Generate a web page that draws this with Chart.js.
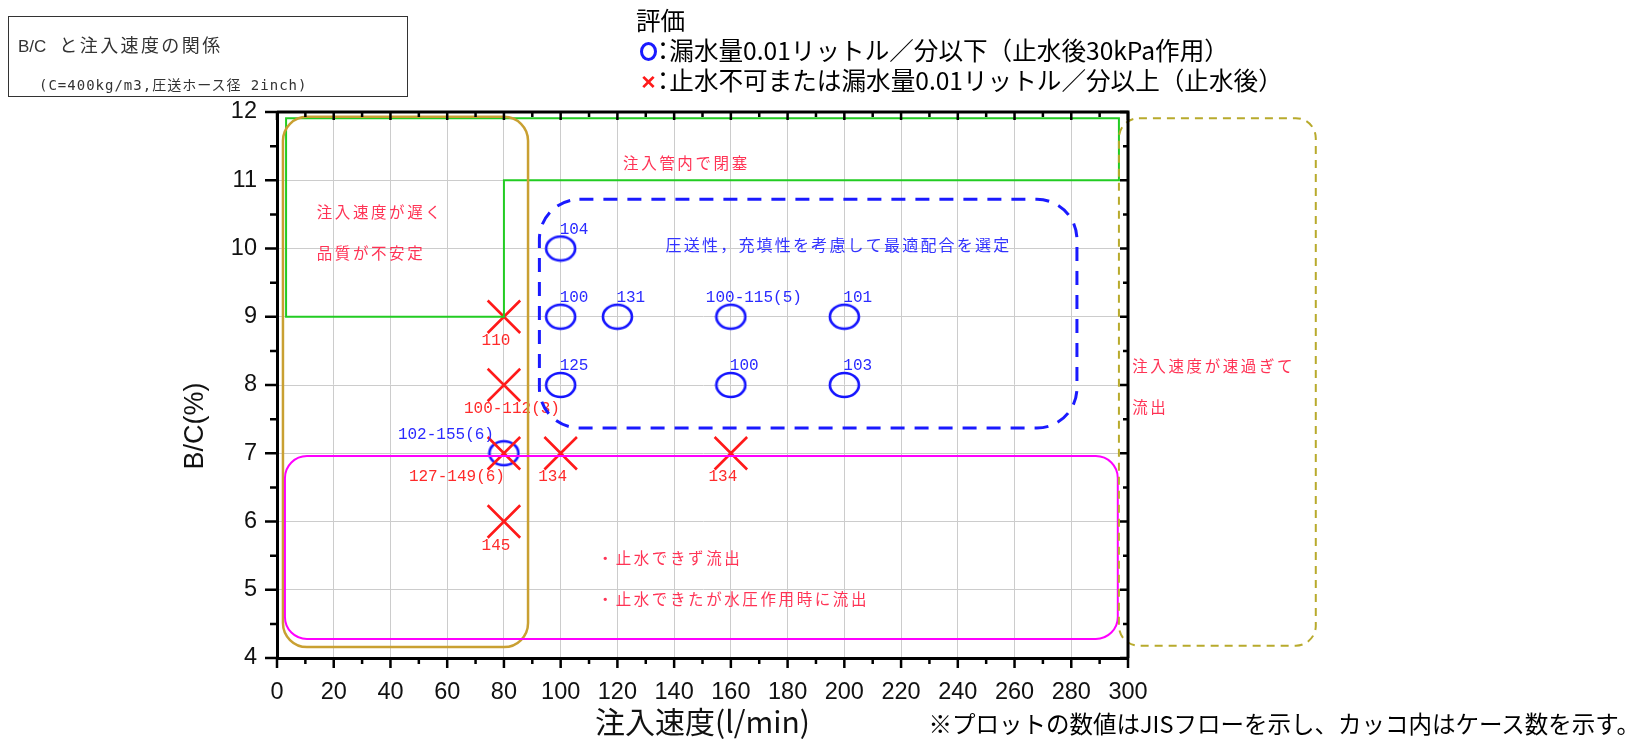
<!DOCTYPE html>
<html lang="ja">
<head>
<meta charset="utf-8">
<title>B/C と注入速度の関係</title>
<script src="https://cdn.jsdelivr.net/npm/chart.js@4.4.1/dist/chart.umd.min.js"></script>
<style>
    html, body { margin: 0; padding: 0; background: #fff; }
    #wrap { position: relative; width: 1636px; height: 740px; overflow: hidden; }
    #chart { position: absolute; left: 0; top: 0; }
    #caption {
        position: absolute; left: 8px; top: 16px; width: 400px; height: 81px;
        box-sizing: border-box; border: 1px solid #333; color: #333;
        font-family: "Noto Sans CJK JP", sans-serif;
    }
    #caption .l1 { position: absolute; left: 9px; top: 14px; font-size: 18px; line-height: 26px; white-space: nowrap; }
    #caption .l1 .lat { font-family: "Liberation Sans", sans-serif; font-size: 17px; margin-right: 13px; }
    #caption .l1 .kan { letter-spacing: 2.4px; }
    #caption .l2 { position: absolute; left: 30px; top: 58px; font-size: 14px; line-height: 20px; letter-spacing: 1px; white-space: nowrap;
        font-family: "DejaVu Sans Mono", "Noto Sans CJK JP", monospace; }
    #legend {
        position: absolute; left: 636px; top: 4px; color: #000;
        font-family: "Noto Sans CJK JP", sans-serif; font-size: 24.6px; line-height: 30px; white-space: nowrap;
    }
    #legend .ring {
        display: inline-block; width: 11px; height: 13px; border: 3px solid #1a1aff; border-radius: 50%;
        margin-left: 4px; vertical-align: -1px;
    }
    #legend .cross { display: inline-block; width: 17px; margin-left: 4px; color: #ff1a1a; font-weight: bold; font-family: "Liberation Sans", sans-serif; text-align: center; }
    #legend .colon { font-feature-settings: "palt" 1; }
    #note {
        position: absolute; right: -4px; top: 708px; color: #000;
        font-family: "Noto Sans CJK JP", sans-serif; font-size: 23.5px; line-height: 30px; white-space: nowrap;
    }
</style>
</head>
<body>
<div id="wrap">
    <canvas id="chart" width="1636" height="740"></canvas>
    <div id="caption">
        <div class="l1"><span class="lat">B/C</span><span class="kan">と注入速度の関係</span></div>
        <div class="l2">(C=400kg/m3,圧送ホース径 2inch)</div>
    </div>
    <div id="legend">
        <div>評価</div>
        <div><span class="ring"></span><span class="colon">：</span>漏水量0.01リットル／分以下（止水後30kPa作用）</div>
        <div><span class="cross">×</span><span class="colon">：</span>止水不可または漏水量0.01リットル／分以上（止水後）</div>
    </div>
    <div id="note">※プロットの数値はJISフローを示し、カッコ内はケース数を示す。</div>
</div>
<script>
// 軸の目盛り
const xTickValues = [0, 20, 40, 60, 80, 100, 120, 140, 160, 180, 200, 220, 240, 260, 280, 300];
const yTickValues = [4, 5, 6, 7, 8, 9, 10, 11, 12];

// ○ : 漏水量0.01リットル／分以下
const okSpeed = [100, 100, 120, 160, 200, 100, 160, 200, 80];
const okBC = [10, 9, 9, 9, 9, 8, 8, 8, 7];
const okLabels = ['104', '100', '131', '100-115(5)', '101', '125', '100', '103', '102-155(6)'];

// × : 止水不可または漏水量0.01リットル／分以上
const ngSpeed = [80, 80, 80, 100, 160, 80];
const ngBC = [9, 8, 7, 7, 7, 6];
const ngLabels = ['110', '100-112(3)', '127-149(6)', '134', '134', '145'];

// ラベルの置き方
const okLabelPlace = ['above', 'above', 'above', 'aboveWide', 'above', 'above', 'above', 'above', 'aboveLeft'];
const ngLabelPlace = ['below', 'belowWide', 'belowLeft', 'below', 'below', 'below'];

// 領域枠 (データ座標: x1, x2, y1, y2)
const slowZone = [2.1, 88.5, 4.16, 11.93];
const bestZone = [92.5, 282, 7.37, 10.72];
const leakZone = [2.8, 296.4, 4.28, 6.96];
const fastZone = [296.8, 366.2, 4.18, 11.91];
// 注入管内で閉塞 の折れ線 (x, y)
const blockZoneX = [3.2, 296.8, 296.8, 80, 80, 3.2];
const blockZoneY = [11.91, 11.91, 11, 11, 9, 9];

// 領域の説明文
const zoneTexts = ['注入管内で閉塞', '注入速度が遅く', '品質が不安定', '圧送性，充填性を考慮して最適配合を選定',
    '・止水できず流出', '・止水できたが水圧作用時に流出', '注入速度が速過ぎて', '流出'];
const zoneTextX = [122, 14, 14, 137, 113, 113, 301.5, 301.5];
const zoneTextY = [11.25, 10.53, 9.93, 10.05, 5.46, 4.87, 8.28, 7.68];
const zoneTextColor = ['#ff3355', '#ff3355', '#ff3355', '#3333ff', '#ff3355', '#ff3355', '#ff3355', '#ff3355'];

// 楕円の○マーカー
function makeRing() {
    const c = document.createElement('canvas');
    c.width = 33;
    c.height = 28;
    const g = c.getContext('2d');
    g.strokeStyle = '#1515ff';
    g.lineWidth = 2.6;
    g.beginPath();
    g.ellipse(16.5, 14, 14.5, 12, 0, 0, Math.PI * 2);
    g.stroke();
    return c;
}

function drawPointLabels(chart, xs, ys, labels, places, color) {
    const { ctx, scales: { x, y } } = chart;
    ctx.save();
    ctx.font = '16px "Liberation Mono", "DejaVu Sans Mono", monospace';
    ctx.fillStyle = color;
    ctx.textBaseline = 'middle';
    labels.forEach((t, i) => {
        const px = x.getPixelForValue(xs[i]);
        const py = y.getPixelForValue(ys[i]);
        switch (places[i]) {
            case 'above': ctx.textAlign = 'left'; ctx.fillText(t, px - 1, py - 19); break;
            case 'aboveWide': ctx.textAlign = 'left'; ctx.fillText(t, px - 25, py - 19); break;
            case 'aboveLeft': ctx.textAlign = 'right'; ctx.fillText(t, px - 10, py - 18); break;
            case 'belowWide': ctx.textAlign = 'center'; ctx.fillText(t, px + 8, py + 24); break;
            case 'belowLeft': ctx.textAlign = 'right'; ctx.fillText(t, px + 1, py + 24); break;
            default: ctx.textAlign = 'center'; ctx.fillText(t, px - 8, py + 24);
        }
    });
    ctx.restore();
}

function drawZone(chart, zone, color, width, dash, radius) {
    const { ctx, scales: { x, y } } = chart;
    const x1 = x.getPixelForValue(zone[0]);
    const x2 = x.getPixelForValue(zone[1]);
    const y1 = y.getPixelForValue(zone[3]);
    const y2 = y.getPixelForValue(zone[2]);
    ctx.save();
    ctx.strokeStyle = color;
    ctx.lineWidth = width;
    ctx.setLineDash(dash);
    ctx.beginPath();
    ctx.roundRect(x1, y1, x2 - x1, y2 - y1, radius);
    ctx.stroke();
    ctx.restore();
}

const zonePlugin = {
    id: 'zones',
    afterDatasetsDraw(chart) {
        const { ctx, scales: { x, y } } = chart;
        drawPointLabels(chart, okSpeed, okBC, okLabels, okLabelPlace, '#2a2aff');
        drawPointLabels(chart, ngSpeed, ngBC, ngLabels, ngLabelPlace, '#ff2a2a');

        // 注入管内で閉塞
        ctx.save();
        ctx.strokeStyle = '#22cc22';
        ctx.lineWidth = 2;
        ctx.beginPath();
        blockZoneX.forEach((v, i) => {
            const px = x.getPixelForValue(v);
            const py = y.getPixelForValue(blockZoneY[i]);
            if (i === 0) ctx.moveTo(px, py); else ctx.lineTo(px, py);
        });
        ctx.closePath();
        ctx.stroke();
        ctx.restore();

        drawZone(chart, slowZone, '#c9a032', 2.5, [], 24);
        drawZone(chart, leakZone, '#ff00ff', 2, [], 22);
        drawZone(chart, bestZone, '#1a1aff', 3, [14, 10], 40);
        drawZone(chart, fastZone, '#b8aa2c', 2, [8, 6], 20);

        ctx.save();
        ctx.textBaseline = 'middle';
        ctx.textAlign = 'left';
        zoneTexts.forEach((t, i) => {
            const blue = zoneTextColor[i] === '#3333ff';
            ctx.font = (blue ? '16px' : '15.5px') + ' "Noto Sans CJK JP", sans-serif';
            ctx.letterSpacing = blue ? '2.2px' : '2.6px';
            ctx.fillStyle = zoneTextColor[i];
            ctx.fillText(t, x.getPixelForValue(zoneTextX[i]), y.getPixelForValue(zoneTextY[i]));
        });
        ctx.restore();
    },
    afterDraw(chart) {
        // 枠と目盛り線
        const { ctx, chartArea: a, scales: { x, y } } = chart;
        ctx.save();
        ctx.strokeStyle = '#000';
        ctx.lineWidth = 3;
        ctx.beginPath();
        ctx.moveTo(a.left, a.top);
        ctx.lineTo(a.right, a.top);
        ctx.lineTo(a.right, a.bottom);
        ctx.stroke();

        ctx.lineWidth = 2.5;
        ctx.beginPath();
        xTickValues.forEach((v, i) => {
            const px = x.getPixelForValue(v);
            ctx.moveTo(px, a.bottom); ctx.lineTo(px, a.bottom + 10);
            ctx.moveTo(px, a.top); ctx.lineTo(px, a.top + 8);
            if (i > 0) {
                const mx = x.getPixelForValue((v + xTickValues[i - 1]) / 2);
                ctx.moveTo(mx, a.bottom); ctx.lineTo(mx, a.bottom + 6);
                ctx.moveTo(mx, a.top); ctx.lineTo(mx, a.top + 5);
            }
        });
        yTickValues.forEach((v, i) => {
            const py = y.getPixelForValue(v);
            ctx.moveTo(a.left, py); ctx.lineTo(a.left - 12, py);
            ctx.moveTo(a.right, py); ctx.lineTo(a.right - 8, py);
            if (i > 0) {
                const my = y.getPixelForValue((v + yTickValues[i - 1]) / 2);
                ctx.moveTo(a.left, my); ctx.lineTo(a.left - 7, my);
                ctx.moveTo(a.right, my); ctx.lineTo(a.right - 5, my);
            }
        });
        ctx.stroke();

        // 縦軸タイトル (軸の中央より少し下)
        ctx.translate(y.left + 16, y.getPixelForValue(7.4));
        ctx.rotate(-Math.PI / 2);
        ctx.font = '27px "Liberation Sans", Arial, sans-serif';
        ctx.fillStyle = '#111';
        ctx.textAlign = 'center';
        ctx.textBaseline = 'middle';
        ctx.fillText('B/C(%)', 0, 0);
        ctx.restore();
    }
};

const tickFont = { family: '"Liberation Sans", Arial, sans-serif', size: 23.5 };
const gridStyle = { color: '#cccccc', lineWidth: 1, drawTicks: false };

new Chart(document.getElementById('chart').getContext('2d'), {
    type: 'scatter',
    data: {
        datasets: [
            {
                label: '×',
                data: ngSpeed.map((v, i) => ({ x: v, y: ngBC[i] })),
                pointStyle: 'crossRot',
                radius: 23,
                hoverRadius: 23,
                borderColor: '#ff1a1a',
                borderWidth: 2.6
            },
            {
                label: '○',
                data: okSpeed.map((v, i) => ({ x: v, y: okBC[i] })),
                pointStyle: makeRing(),
                radius: 14,
                hoverRadius: 14
            }
        ]
    },
    options: {
        responsive: false,
        animation: false,
        devicePixelRatio: 1,
        events: [],
        layout: { padding: { left: 180, right: 508, top: 112, bottom: 0 } },
        plugins: { legend: { display: false }, tooltip: { enabled: false } },
        scales: {
            x: {
                type: 'linear',
                min: 0,
                max: 300,
                afterFit(s) { s.height = 82; },
                afterBuildTicks(s) { s.ticks = xTickValues.map(v => ({ value: v })); },
                grid: gridStyle,
                border: { display: true, color: '#000', width: 3 },
                ticks: { padding: 20, font: tickFont, color: '#111', maxRotation: 0, autoSkip: false },
                title: {
                    display: true,
                    text: '注入速度(l/min)',
                    color: '#111',
                    font: { family: '"Noto Sans CJK JP", sans-serif', size: 30 },
                    padding: 0
                }
            },
            y: {
                type: 'linear',
                min: 4,
                max: 12,
                afterFit(s) { s.width = 97; },
                afterBuildTicks(s) { s.ticks = yTickValues.map(v => ({ value: v })); },
                grid: gridStyle,
                border: { display: true, color: '#000', width: 3 },
                ticks: { padding: 20, font: tickFont, color: '#111', autoSkip: false },
                title: { display: false }
            }
        }
    },
    plugins: [zonePlugin]
});
</script>
</body>
</html>
